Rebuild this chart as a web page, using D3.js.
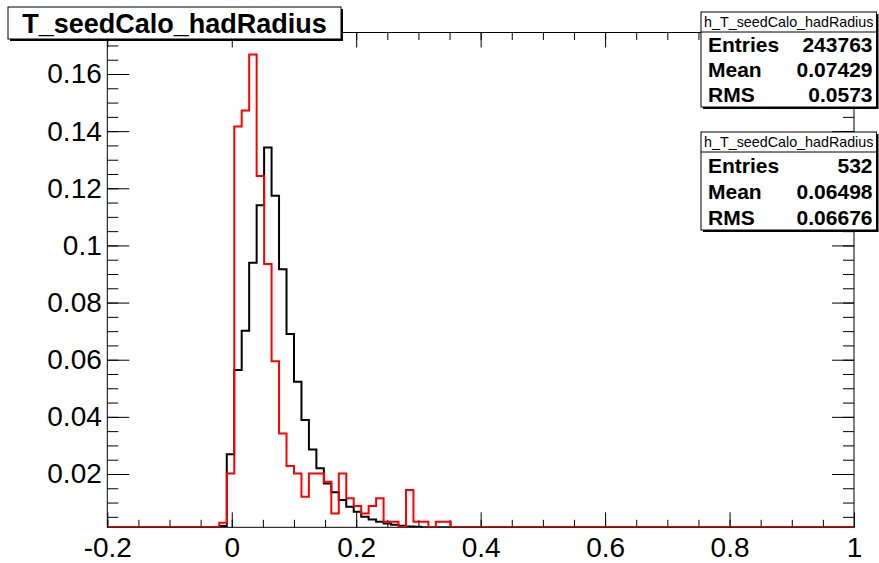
<!DOCTYPE html>
<html>
<head>
<meta charset="utf-8">
<script src="https://cdn.jsdelivr.net/npm/d3@7"></script>
<style>
  body { margin: 0; background: #fff; }
  svg { display: block; font-family: "Liberation Sans", Arial, Helvetica, sans-serif; }
</style>
</head>
<body>
<svg id="chart" width="879" height="563"></svg>
<script>
// Histogram binning: 100 bins from -0.2 to 1.0
const nBins = 100;
const xLow = -0.2;
const xHigh = 1.0;

// Bin contents (normalised), bins 0..99
const blackValues = [
  0, 0, 0, 0, 0, 0, 0, 0, 0, 0,
  0, 0, 0, 0, 0, 0.0018, 0.0269, 0.0564, 0.0701, 0.0939,
  0.1141, 0.1343, 0.1174, 0.0917, 0.0690, 0.0523, 0.0389, 0.0286, 0.0220, 0.0167,
  0.0136, 0.0109, 0.0085, 0.0068, 0.0050, 0.0041, 0.0033, 0.0027, 0.0022, 0.0019,
  0.0016, 0.0015, 0.0014, 0.0012, 0.0011, 0.0010, 0.0008, 0.0007, 0.0006, 0.0005,
  0.0004, 0.0003, 0.0003, 0.0002, 0.0002, 0.0001, 0, 0, 0, 0,
  0, 0, 0, 0, 0, 0, 0, 0, 0, 0,
  0, 0, 0, 0, 0, 0, 0, 0, 0, 0,
  0, 0, 0, 0, 0, 0, 0, 0, 0, 0,
  0, 0, 0, 0, 0, 0, 0, 0, 0, 0
];
const redValues = [
  0, 0, 0, 0, 0, 0, 0, 0, 0, 0,
  0, 0, 0, 0, 0, 0.0029, 0.0202, 0.1416, 0.1472, 0.1668,
  0.1243, 0.0935, 0.0595, 0.0342, 0.0228, 0.0202, 0.0120, 0.0202, 0.0202, 0.0173,
  0.0062, 0.0202, 0.0115, 0.0088, 0.0062, 0.0088, 0.0115, 0.0033, 0.0033, 0,
  0.0144, 0.0033, 0.0033, 0, 0.0033, 0.0033, 0, 0, 0, 0,
  0, 0, 0, 0, 0, 0, 0, 0, 0, 0,
  0, 0, 0, 0, 0, 0, 0, 0, 0, 0,
  0, 0, 0, 0, 0, 0, 0, 0, 0, 0,
  0, 0, 0, 0, 0, 0, 0, 0, 0, 0,
  0, 0, 0, 0, 0, 0, 0, 0, 0, 0
];

// Axis range and tick labels
const yMin = 0.00134;
const yMax = 0.17453;
const xTickValues = [-0.2, 0, 0.2, 0.4, 0.6, 0.8, 1.0];
const xTickLabels = ["-0.2", "0", "0.2", "0.4", "0.6", "0.8", "1"];
const yTickValues = [0.02, 0.04, 0.06, 0.08, 0.10, 0.12, 0.14, 0.16];
const yTickLabels = ["0.02", "0.04", "0.06", "0.08", "0.1", "0.12", "0.14", "0.16"];
const xMinorStep = 0.05;
const yMinorStep = 0.005;

// Title and statistics boxes
const histTitle = "T_seedCalo_hadRadius";
const statsName = "h_T_seedCalo_hadRadius";
const statsBlack = [["Entries", "243763"], ["Mean", "0.07429"], ["RMS", "0.0573"]];
const statsRed = [["Entries", "532"], ["Mean", "0.06498"], ["RMS", "0.06676"]];

// Frame geometry
const frame = { left: 107.3, right: 854, top: 32.5, bottom: 527.3 };

const svg = d3.select("#chart");
const x = d3.scaleLinear().domain([xLow, xHigh]).range([frame.left, frame.right]);
const y = d3.scaleLinear().domain([yMin, yMax]).range([frame.bottom, frame.top]);

const xMinor = d3.range(Math.round((xHigh - xLow) / xMinorStep) + 1).map(i => xLow + i * xMinorStep);
const yMinor = d3.range(Math.floor(yMax / yMinorStep) + 1).map(i => i * yMinorStep).filter(v => v >= yMin);

const labelFor = (vals, labels) => v => {
  const i = vals.findIndex(t => Math.abs(t - v) < 1e-9);
  return i >= 0 ? labels[i] : "";
};

svg.append("defs").append("clipPath").attr("id", "frameClip")
  .append("rect")
  .attr("x", frame.left).attr("y", frame.top)
  .attr("width", frame.right - frame.left).attr("height", frame.bottom - frame.top);

// Histograms as step outlines
const binWidth = (xHigh - xLow) / nBins;
function stepPoints(values) {
  const pts = values.map((v, i) => [xLow + i * binWidth, v]);
  pts.push([xHigh, values[values.length - 1]]);
  return pts;
}
const stepLine = d3.line()
  .x(d => x(d[0]))
  .y(d => y(Math.max(d[1], yMin)))
  .curve(d3.curveStepAfter);

const plot = svg.append("g").attr("clip-path", "url(#frameClip)");
plot.append("path").datum(stepPoints(blackValues))
  .attr("d", stepLine).attr("fill", "none").attr("stroke", "#000")
  .attr("stroke-width", 2).attr("stroke-linejoin", "miter");

// Axes: major and minor ticks on all four sides
const axisStyle = g => {
  g.select(".domain").remove();
  g.selectAll("line").attr("stroke", "#000").attr("stroke-width", 1);
};
const xMajorLen = 15, xMinorLen = 7.5, yMajorLen = 22, yMinorLen = 11;

svg.append("g").attr("transform", `translate(0,${frame.bottom})`)
  .call(d3.axisBottom(x).tickValues(xMinor).tickSizeInner(-xMinorLen).tickSizeOuter(0).tickFormat(""))
  .call(axisStyle);
svg.append("g").attr("transform", `translate(0,${frame.bottom})`)
  .call(d3.axisBottom(x).tickValues(xTickValues).tickSizeInner(-xMajorLen).tickSizeOuter(0)
    .tickPadding(10).tickFormat(labelFor(xTickValues, xTickLabels)))
  .call(axisStyle)
  .selectAll("text").attr("font-size", 28).attr("fill", "#000");

svg.append("g").attr("transform", `translate(0,${frame.top})`)
  .call(d3.axisTop(x).tickValues(xMinor).tickSizeInner(-xMinorLen).tickSizeOuter(0).tickFormat(""))
  .call(axisStyle);
svg.append("g").attr("transform", `translate(0,${frame.top})`)
  .call(d3.axisTop(x).tickValues(xTickValues).tickSizeInner(-xMajorLen).tickSizeOuter(0).tickFormat(""))
  .call(axisStyle);

svg.append("g").attr("transform", `translate(${frame.left},0)`)
  .call(d3.axisLeft(y).tickValues(yMinor).tickSizeInner(-yMinorLen).tickSizeOuter(0).tickFormat(""))
  .call(axisStyle);
svg.append("g").attr("transform", `translate(${frame.left},0)`)
  .call(d3.axisLeft(y).tickValues(yTickValues).tickSizeInner(-yMajorLen).tickSizeOuter(0)
    .tickPadding(5.5).tickFormat(labelFor(yTickValues, yTickLabels)))
  .call(axisStyle)
  .selectAll("text").attr("font-size", 28).attr("fill", "#000");

svg.append("g").attr("transform", `translate(${frame.right},0)`)
  .call(d3.axisRight(y).tickValues(yMinor).tickSizeInner(-yMinorLen).tickSizeOuter(0).tickFormat(""))
  .call(axisStyle);
svg.append("g").attr("transform", `translate(${frame.right},0)`)
  .call(d3.axisRight(y).tickValues(yTickValues).tickSizeInner(-yMajorLen).tickSizeOuter(0).tickFormat(""))
  .call(axisStyle);

// Frame box
svg.append("rect")
  .attr("x", frame.left).attr("y", frame.top)
  .attr("width", frame.right - frame.left).attr("height", frame.bottom - frame.top)
  .attr("fill", "none").attr("stroke", "#000").attr("stroke-width", 1);

// Red outline drawn last so it sits above the black one and the bottom axis line
svg.append("g").attr("clip-path", "url(#frameClip)")
  .append("path").datum(stepPoints(redValues))
  .attr("d", stepLine).attr("fill", "none").attr("stroke", "#ff0000")
  .attr("stroke-width", 2).attr("stroke-linejoin", "miter");

// Boxes with a drop shadow
function shadowBox(x0, y0, w, h) {
  svg.append("rect").attr("x", x0 + 2).attr("y", y0 + 2).attr("width", w).attr("height", h)
    .attr("fill", "#000");
  svg.append("rect").attr("x", x0).attr("y", y0).attr("width", w).attr("height", h)
    .attr("fill", "#fff").attr("stroke", "#000").attr("stroke-width", 1);
}

// Histogram title
shadowBox(8, 7, 333, 32);
svg.append("text").attr("x", 174.5).attr("y", 33).attr("text-anchor", "middle")
  .attr("font-size", 27).attr("font-weight", "bold").attr("fill", "#000").text(histTitle);

// Statistics boxes
function statsBox(top, sepY, bottom, rows) {
  const left = 701, right = 876.5;
  shadowBox(left, top, right - left, bottom - top);
  svg.append("line").attr("x1", left).attr("x2", right).attr("y1", sepY).attr("y2", sepY)
    .attr("stroke", "#000").attr("stroke-width", 1);
  svg.append("text").attr("x", (left + right) / 2).attr("y", (top + sepY) / 2 + 5)
    .attr("text-anchor", "middle").attr("font-size", 14.3).attr("fill", "#000").text(statsName);
  const rowH = (bottom - sepY) / rows.length;
  rows.forEach((r, i) => {
    const cy = sepY + rowH * (i + 0.5);
    svg.append("text").attr("x", left + 7).attr("y", cy + 7.5)
      .attr("font-size", 21).attr("font-weight", "bold").attr("fill", "#000").text(r[0]);
    svg.append("text").attr("x", right - 4).attr("y", cy + 7.5).attr("text-anchor", "end")
      .attr("font-size", 21).attr("font-weight", "bold").attr("fill", "#000").text(r[1]);
  });
}
statsBox(12, 32, 107, statsBlack);
statsBox(132, 152, 230, statsRed);
</script>
</body>
</html>
